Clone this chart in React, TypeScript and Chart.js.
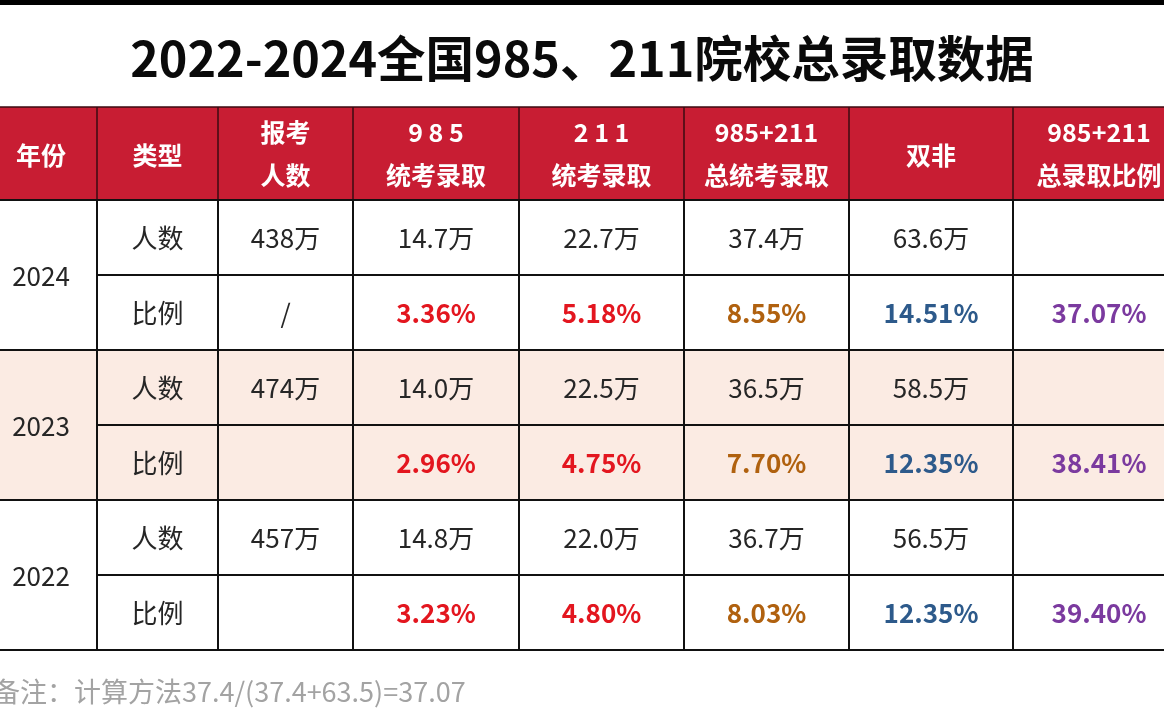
import React, { useEffect, useRef } from 'react';
import { Chart, registerables } from 'chart.js';

Chart.register(...registerables);

// ---------- data ----------
const TITLE = '2022-2024全国985、211院校总录取数据';
const HEADERS: string[][] = [
  ['年份'],
  ['类型'],
  ['报考', '人数'],
  ['9 8 5', '统考录取'],
  ['2 1 1', '统考录取'],
  ['985+211', '总统考录取'],
  ['双非'],
  ['985+211', '总录取比例'],
];
const YEARS = ['2024', '2023', '2022'];
const ROW_TYPES = ['人数', '比例'];
const APPLICANTS = [438, 474, 457];
const APPLICANT_RATE = ['/', '', ''];
const ADMIT_985 = [14.7, 14.0, 14.8];
const RATE_985 = [3.36, 2.96, 3.23];
const ADMIT_211 = [22.7, 22.5, 22.0];
const RATE_211 = [5.18, 4.75, 4.8];
const ADMIT_TOTAL = [37.4, 36.5, 36.7];
const RATE_TOTAL = [8.55, 7.7, 8.03];
const NON_KEY = [63.6, 58.5, 56.5];
const RATE_NON_KEY = [14.51, 12.35, 12.35];
const KEY_SHARE = [37.07, 38.41, 39.4];
const FOOTNOTE = '备注：计算方法37.4/(37.4+63.5)=37.07';

// ---------- layout / style ----------
const COL_W = [112, 121, 135, 166, 165, 165, 164, 172];
const X_OFFSET = 15; // left part of first column is cut off
const VISIBLE_W = 1164;
const HEADER_H = 93;
const ROW_H = 75;
const FONT = '"Noto Sans CJK SC", "Noto Sans", sans-serif';
const HEADER_BG = '#c81d33';
const STRIPE_BG = '#fbebe3';
const BODY_COLOR = '#262626';
const RATE_COLORS = ['', '', BODY_COLOR, '#e3161f', '#e3161f', '#b0610f', '#2d5a8b', '#7b3a9f'];

const fmtWan = (v: number) => `${v.toFixed(1)}万`;
const fmtPct = (v: number) => `${v.toFixed(2)}%`;

function buildRows() {
  const rows: { year: number; kind: number; cells: string[] }[] = [];
  YEARS.forEach((_, i) => {
    rows.push({
      year: i,
      kind: 0,
      cells: [
        YEARS[i],
        ROW_TYPES[0],
        `${APPLICANTS[i]}万`,
        fmtWan(ADMIT_985[i]),
        fmtWan(ADMIT_211[i]),
        fmtWan(ADMIT_TOTAL[i]),
        fmtWan(NON_KEY[i]),
        '',
      ],
    });
    rows.push({
      year: i,
      kind: 1,
      cells: [
        YEARS[i],
        ROW_TYPES[1],
        APPLICANT_RATE[i],
        fmtPct(RATE_985[i]),
        fmtPct(RATE_211[i]),
        fmtPct(RATE_TOTAL[i]),
        fmtPct(RATE_NON_KEY[i]),
        fmtPct(KEY_SHARE[i]),
      ],
    });
  });
  return rows;
}

const tablePlugin = {
  id: 'tablePlugin',
  beforeDraw(chart: any) {
    const ctx = chart.ctx as CanvasRenderingContext2D;
    ctx.save();
    ctx.fillStyle = '#ffffff';
    ctx.fillRect(0, 0, chart.width, chart.height);
    ctx.fillStyle = '#000000';
    ctx.fillRect(0, 0, chart.width, 5);
    ctx.restore();
  },
  afterDraw(chart: any) {
    const ctx = chart.ctx as CanvasRenderingContext2D;
    const xs = chart.scales.x;
    const ys = chart.scales.y;
    const rows = buildRows();
    const colEdges = [0];
    COL_W.forEach((w) => colEdges.push(colEdges[colEdges.length - 1] + w));
    const rowEdges = [0, HEADER_H];
    rows.forEach(() => rowEdges.push(rowEdges[rowEdges.length - 1] + ROW_H));
    const px = (v: number) => xs.getPixelForValue(v);
    const py = (v: number) => ys.getPixelForValue(v);
    const left = px(0);
    const right = px(colEdges[colEdges.length - 1]);

    ctx.save();
    // header background
    ctx.fillStyle = HEADER_BG;
    ctx.fillRect(left, py(0), right - left, py(HEADER_H) - py(0));
    // striped year (2023)
    rows.forEach((r, ri) => {
      if (r.year === 1) {
        ctx.fillStyle = STRIPE_BG;
        ctx.fillRect(left, py(rowEdges[ri + 1]), right - left, py(rowEdges[ri + 2]) - py(rowEdges[ri + 1]));
      }
    });

    // header lines
    ctx.strokeStyle = '#3b0b12';
    ctx.lineWidth = 1.5;
    ctx.beginPath();
    ctx.moveTo(left, py(0));
    ctx.lineTo(right, py(0));
    for (let c = 1; c < colEdges.length - 1; c++) {
      ctx.moveTo(px(colEdges[c]), py(0));
      ctx.lineTo(px(colEdges[c]), py(HEADER_H));
    }
    ctx.stroke();

    // body lines
    ctx.strokeStyle = '#111111';
    ctx.lineWidth = 2;
    ctx.beginPath();
    for (let ri = 0; ri <= rows.length; ri++) {
      const y = py(rowEdges[ri + 1]);
      const isMid = ri > 0 && ri < rows.length && rows[ri - 1].year === rows[ri].year;
      const x0 = isMid ? px(colEdges[1]) : left;
      ctx.moveTo(x0, y);
      ctx.lineTo(right, y);
    }
    for (let c = 1; c < colEdges.length - 1; c++) {
      ctx.moveTo(px(colEdges[c]), py(HEADER_H));
      ctx.lineTo(px(colEdges[c]), py(rowEdges[rowEdges.length - 1]));
    }
    ctx.stroke();

    // header text
    ctx.textAlign = 'center';
    ctx.textBaseline = 'middle';
    ctx.fillStyle = '#ffffff';
    ctx.font = `bold 25px ${FONT}`;
    HEADERS.forEach((lines, c) => {
      const cx = (px(colEdges[c]) + px(colEdges[c + 1])) / 2;
      const cy = (py(0) + py(HEADER_H)) / 2;
      if (lines.length === 1) {
        ctx.fillText(lines[0], cx, cy + 2);
      } else {
        ctx.fillText(lines[0], cx, cy - 21);
        ctx.fillText(lines[1], cx, cy + 22);
      }
    });

    // body text
    rows.forEach((r, ri) => {
      const y0 = py(rowEdges[ri + 1]);
      const y1 = py(rowEdges[ri + 2]);
      const cy = (y0 + y1) / 2 + 1;
      r.cells.forEach((txt, c) => {
        if (!txt) return;
        const cx = (px(colEdges[c]) + px(colEdges[c + 1])) / 2;
        if (c === 0) {
          if (r.kind !== 0) return;
          const yEnd = py(rowEdges[ri + 3]);
          ctx.font = `26px ${FONT}`;
          ctx.fillStyle = BODY_COLOR;
          ctx.fillText(txt, cx, (y0 + yEnd) / 2 + 1);
          return;
        }
        if (r.kind === 1 && c >= 3) {
          ctx.font = `bold 26px ${FONT}`;
          ctx.fillStyle = RATE_COLORS[c];
        } else {
          ctx.font = `26px ${FONT}`;
          ctx.fillStyle = BODY_COLOR;
        }
        ctx.fillText(txt, cx, cy);
      });
    });

    // footnote
    ctx.textAlign = 'left';
    ctx.font = `27px ${FONT}`;
    ctx.fillStyle = '#a3a3a3';
    ctx.fillText(FOOTNOTE, -7, py(rowEdges[rowEdges.length - 1]) + 42);
    ctx.restore();
  },
};

export default function App() {
  const ref = useRef<HTMLCanvasElement>(null);
  useEffect(() => {
    if (!ref.current) return;
    const chart = new Chart(ref.current, {
      type: 'scatter',
      data: { datasets: [] },
      options: {
        animation: false,
        responsive: false,
        devicePixelRatio: 1,
        layout: { padding: { top: 0, bottom: 71, left: 0, right: 0 } },
        scales: {
          x: { type: 'linear', display: false, min: X_OFFSET, max: X_OFFSET + VISIBLE_W },
          y: { type: 'linear', display: false, reverse: true, min: 0, max: HEADER_H + 6 * ROW_H },
        },
        plugins: {
          legend: { display: false },
          tooltip: { enabled: false },
          title: {
            display: true,
            text: TITLE,
            color: '#0a0a0a',
            font: { family: FONT, size: 48.5, weight: 'bold', lineHeight: 1.2 },
            padding: { top: 29, bottom: 19.8 },
          },
        },
      },
      plugins: [tablePlugin],
    });
    return () => chart.destroy();
  }, []);
  return (
    <div style={{ position: 'fixed', left: 0, top: 0, width: 1164, height: 721, background: '#fff' }}>
      <canvas ref={ref} width={1164} height={721} />
    </div>
  );
}
